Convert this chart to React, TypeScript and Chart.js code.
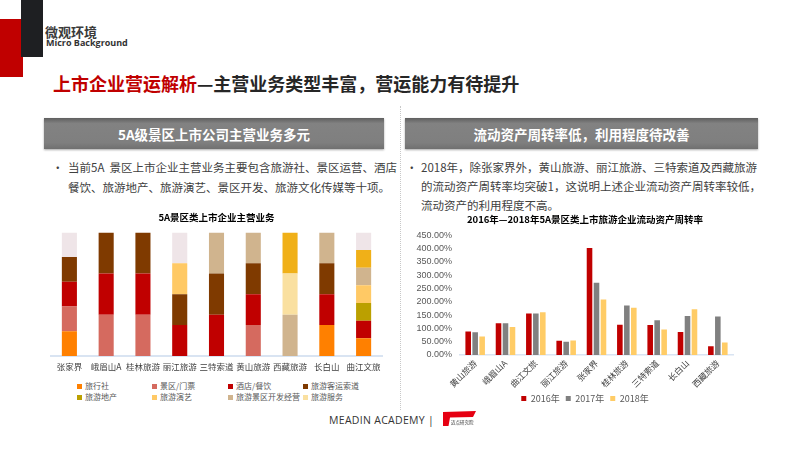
import React, { useEffect, useRef } from 'react';
import { Chart, registerables } from 'chart.js';

Chart.register(...registerables);

// ---------- DATA ----------
// Left chart: which main businesses each listed company runs (1 = yes)
const businessCompanies = ['张家界', '峨眉山A', '桂林旅游', '丽江旅游', '三特索道', '黄山旅游', '西藏旅游', '长白山', '曲江文旅'];
const businessTypes = ['旅行社', '景区/门票', '酒店/餐饮', '旅游客运索道', '旅游地产', '旅游演艺', '旅游景区开发经营', '旅游服务', '其他', '旅游文化传媒'];
const businessColors = ['#FF8000', '#D56A5F', '#C00000', '#7F3A00', '#BBA000', '#FFC965', '#D0B48E', '#FAE0A0', '#F0B018', '#EFE5E8'];
const legendBusinessCount = 8; // only the first eight appear in the legend
const hasTravelAgency = [1, 0, 0, 0, 0, 0, 0, 1, 1];
const hasScenicTickets = [1, 1, 1, 0, 0, 1, 0, 0, 0];
const hasHotelDining = [1, 1, 1, 1, 1, 1, 0, 1, 1];
const hasCableway = [1, 1, 1, 1, 1, 1, 0, 1, 0];
const hasRealEstate = [0, 0, 0, 0, 0, 0, 0, 0, 1];
const hasPerformance = [0, 0, 0, 1, 0, 0, 0, 0, 1];
const hasScenicDevelopment = [0, 0, 0, 0, 1, 1, 1, 1, 1];
const hasTourismService = [0, 0, 0, 0, 0, 0, 1, 0, 0];
const hasOther = [0, 0, 0, 0, 0, 0, 1, 0, 1];
const hasCultureMedia = [1, 0, 0, 1, 0, 0, 0, 0, 1];
const businessMembership = [
  hasTravelAgency, hasScenicTickets, hasHotelDining, hasCableway, hasRealEstate,
  hasPerformance, hasScenicDevelopment, hasTourismService, hasOther, hasCultureMedia,
];

// Right chart: current asset turnover (%)
const turnoverCompanies = ['黄山旅游', '峨眉山A', '曲江文旅', '丽江旅游', '张家界', '桂林旅游', '三特索道', '长白山', '西藏旅游'];
const turnoverYears = ['2016年', '2017年', '2018年'];
const turnover2016 = [88, 119, 156, 54, 403, 114, 113, 87, 33];
const turnover2017 = [86, 119, 156, 50, 272, 186, 131, 147, 145];
const turnover2018 = [70, 105, 161, 55, 209, 178, 96, 172, 47];
const turnoverColors = ['#C00000', '#808080', '#FFCC66'];
const turnoverMax = 450;
const turnoverStep = 50;

const CJK = '"Noto Sans CJK SC", "Noto Sans", sans-serif';
const NUM = '"Liberation Sans Narrow", "Liberation Sans", Arial, sans-serif';

function BusinessChart() {
  const ref = useRef<HTMLCanvasElement>(null);
  useEffect(() => {
    const totals = businessCompanies.map((_, i) =>
      businessMembership.reduce((s, m) => s + m[i], 0)
    );
    const chart = new Chart(ref.current as HTMLCanvasElement, {
      type: 'bar',
      data: {
        labels: businessCompanies,
        datasets: businessTypes.map((name, k) => ({
          label: name,
          data: businessMembership[k].map((v, i) => (v / totals[i]) * 100),
          backgroundColor: businessColors[k],
          borderWidth: 0,
          barPercentage: 0.82,
          categoryPercentage: 0.5,
        })),
      },
      options: {
        animation: false,
        responsive: true,
        maintainAspectRatio: false,
        layout: { padding: { left: 11, right: 8, top: 0, bottom: 4 } },
        plugins: {
          legend: { display: false },
          tooltip: { enabled: false },
          title: {
            display: true,
            text: '5A景区类上市企业主营业务',
            color: '#000000',
            font: { size: 9.5, weight: 'bold', family: CJK },
            padding: { top: 4, bottom: 9 },
          },
        },
        scales: {
          x: {
            stacked: true,
            grid: { display: false, drawTicks: false },
            border: { color: '#D9E4F2', width: 2 },
            ticks: {
              padding: 6,
              autoSkip: false,
              minRotation: 0,
              maxRotation: 0,
              color: '#404040',
              font: { size: 8.5, family: CJK },
            },
            afterFit: (s: any) => { s.height = 18; },
          },
          y: { stacked: true, display: false, min: 0, max: 100 },
        },
      },
    });
    return () => chart.destroy();
  }, []);
  return <canvas ref={ref} />;
}

function TurnoverChart() {
  const ref = useRef<HTMLCanvasElement>(null);
  useEffect(() => {
    const series = [turnover2016, turnover2017, turnover2018];
    const chart = new Chart(ref.current as HTMLCanvasElement, {
      type: 'bar',
      data: {
        labels: turnoverCompanies,
        datasets: turnoverYears.map((y, k) => ({
          label: y,
          data: series[k],
          backgroundColor: turnoverColors[k],
          borderWidth: 0,
          barPercentage: 0.8,
          categoryPercentage: 0.69,
        })),
      },
      options: {
        animation: false,
        responsive: true,
        maintainAspectRatio: false,
        layout: { padding: { left: 10, right: 20, top: 0, bottom: 0 } },
        plugins: {
          tooltip: { enabled: false },
          title: {
            display: true,
            text: '2016年—2018年5A景区类上市旅游企业流动资产周转率',
            color: '#000000',
            font: { size: 9.5, weight: 'bold', family: CJK },
            padding: { top: 6, bottom: 10 },
          },
          legend: {
            position: 'bottom',
            labels: {
              boxWidth: 5,
              boxHeight: 5,
              padding: 6,
              color: '#595959',
              font: { size: 9, family: CJK },
            },
          },
        },
        scales: {
          x: {
            grid: { display: false, drawTicks: false },
            border: { color: '#D9E4F2', width: 1.5 },
            ticks: {
              minRotation: 45,
              maxRotation: 45,
              padding: 3,
              autoSkip: false,
              color: '#404040',
              font: { size: 8.5, family: CJK },
            },
            afterFit: (s: any) => { s.height = 33; },
          },
          y: {
            min: 0,
            max: turnoverMax,
            grid: { display: false, drawTicks: false },
            border: { display: false },
            ticks: {
              stepSize: turnoverStep,
              autoSkip: false,
              padding: 8,
              color: '#595959',
              font: { size: 9, family: NUM },
              callback: (v: any) => Number(v).toFixed(2) + '%',
            },
            afterFit: (s: any) => { s.width = 50; },
          },
          yRightSpace: {
            position: 'right',
            display: true,
            grid: { display: false, drawTicks: false },
            border: { display: false },
            ticks: { display: false },
            afterFit: (s: any) => { s.width = 27; },
          },
        },
      },
    });
    return () => chart.destroy();
  }, []);
  return <canvas ref={ref} />;
}

const abs = (left: number, top: number, extra: React.CSSProperties = {}): React.CSSProperties => ({
  position: 'absolute', left, top, ...extra,
});

const textStyle: React.CSSProperties = {
  fontFamily: CJK, fontSize: 11.5, color: '#404040', whiteSpace: 'nowrap', lineHeight: '14px',
};

const bandStyle: React.CSSProperties = {
  background: 'linear-gradient(#5f5f5f 0%, #828282 18%, #7f7f7f 80%, #707070 100%)',
  boxShadow: '0 1px 2px rgba(0,0,0,0.35)',
  color: '#ffffff',
  fontFamily: CJK,
  fontWeight: 'bold',
  fontSize: 13.5,
  display: 'flex',
  alignItems: 'center',
  justifyContent: 'center',
  whiteSpace: 'nowrap',
};

export default function App() {
  const legendCols = [77, 152, 228, 303];
  const legendRows = [386, 397];
  return (
    <div style={{ position: 'absolute', left: 0, top: 0, width: 800, height: 449, background: '#ffffff', overflow: 'hidden' }}>
      {/* corner blocks */}
      <div style={abs(0, 19, { width: 23, height: 58, background: '#C00000' })} />
      <div style={abs(21, 0, { width: 22, height: 57, background: '#1E1F22' })} />
      <div style={abs(45, 24, { fontFamily: CJK, fontWeight: 'bold', fontSize: 13, color: '#3A3A3A', lineHeight: '16px', whiteSpace: 'nowrap' })}>微观环境</div>
      <div style={abs(46, 37, { fontFamily: '"Open Sans", sans-serif', fontWeight: 'bold', fontSize: 9, color: '#333333', lineHeight: '12px', whiteSpace: 'nowrap' })}>Micro Background</div>

      {/* main title */}
      <div style={abs(53, 71, { fontFamily: CJK, fontWeight: 'bold', fontSize: 18, lineHeight: '24px', color: '#262626', whiteSpace: 'nowrap' })}>
        <span style={{ color: '#C00000' }}>上市企业营运解析</span>—主营业务类型丰富，营运能力有待提升
      </div>

      {/* divider */}
      <div style={abs(400, 106, { width: 0, height: 304, borderLeft: '1px dotted #C8C8C8' })} />

      {/* section bands */}
      <div style={abs(44, 118, { width: 340, height: 31, ...bandStyle })}>5A级景区上市公司主营业务多元</div>
      <div style={abs(405, 118, { width: 353, height: 31, ...bandStyle })}>流动资产周转率低，利用程度待改善</div>

      {/* left bullet */}
      <div style={abs(52, 160, { ...textStyle })}>•</div>
      <div style={abs(68, 160, { ...textStyle })}>当前5A&nbsp; 景区上市企业主营业务主要包含旅游社、景区运营、酒店</div>
      <div style={abs(68, 180, { ...textStyle })}>餐饮、旅游地产、旅游演艺、景区开发、旅游文化传媒等十项。</div>

      {/* right bullet */}
      <div style={abs(406, 160, { ...textStyle })}>•</div>
      <div style={abs(421, 160, { ...textStyle })}>2018年，除张家界外，黄山旅游、丽江旅游、三特索道及西藏旅游</div>
      <div style={abs(421, 179, { ...textStyle })}>的流动资产周转率均突破1，这说明上述企业流动资产周转率较低，</div>
      <div style={abs(421, 198, { ...textStyle })}>流动资产的利用程度不高。</div>

      {/* left chart */}
      <div style={abs(40, 208, { width: 350, height: 170 })}>
        <BusinessChart />
      </div>
      {businessTypes.slice(0, legendBusinessCount).map((name, k) => (
        <div key={name} style={abs(legendCols[k % 4], legendRows[Math.floor(k / 4)] - 7, { display: 'flex', alignItems: 'center', height: 14, whiteSpace: 'nowrap' })}>
          <span style={{ display: 'inline-block', width: 5, height: 5, background: businessColors[k], marginRight: 3 }} />
          <span style={{ fontFamily: CJK, fontSize: 8, color: '#595959', lineHeight: '14px' }}>{name}</span>
        </div>
      ))}

      {/* right chart */}
      <div style={abs(400, 208, { width: 380, height: 205 })}>
        <TurnoverChart />
      </div>

      {/* footer */}
      <div style={abs(329, 413, { fontFamily: '"Open Sans", sans-serif', fontSize: 10.5, color: '#333333', letterSpacing: 0.3, lineHeight: '14px', whiteSpace: 'nowrap' })}>MEADIN ACADEMY |</div>
      <svg style={abs(443, 411)} width={34} height={16} viewBox="0 0 34 16">
        <path d="M0 1 L33 0 L30 6 L7 6.5 L5.5 15 L0 15 Z" fill="#E60012" />
        <text x={8} y={13} fontSize={4.5} fontFamily={CJK} fill="#333333">迈点研究院</text>
      </svg>
    </div>
  );
}
